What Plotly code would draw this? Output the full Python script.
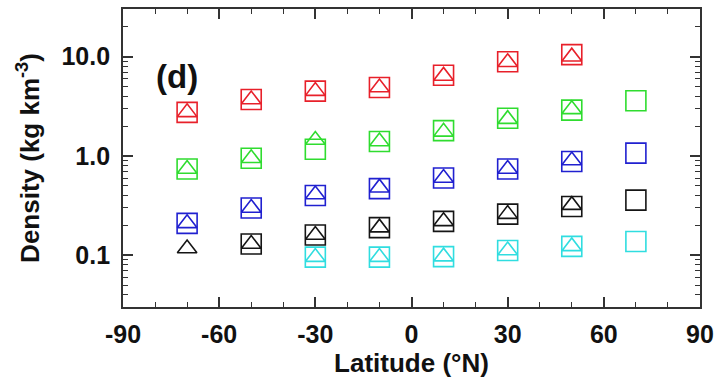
import plotly.graph_objects as go
import math

lat = [-70, -50, -30, -10, 10, 30, 50, 70]

red_sq = [2.75, 3.7, 4.5, 4.9, 6.5, 8.9, 10.5, None]
red_tri = [2.75, 3.7, 4.5, 4.9, 6.4, 8.8, 10.0, None]
green_sq = [0.74, 0.95, 1.17, 1.4, 1.8, 2.4, 2.9, 3.6]
green_tri = [0.74, 0.95, 1.45, 1.4, 1.75, 2.35, 2.95, None]
blue_sq = [0.21, 0.30, 0.40, 0.47, 0.60, 0.74, 0.88, 1.07]
blue_tri = [0.21, 0.30, 0.41, 0.48, 0.60, 0.74, 0.90, None]
black_sq = [None, 0.13, 0.16, 0.19, 0.22, 0.26, 0.31, 0.36]
black_tri = [0.117, 0.13, 0.16, 0.19, 0.22, 0.26, 0.32, None]
cyan_sq = [None, None, 0.096, 0.096, 0.097, 0.112, 0.123, 0.138]
cyan_tri = [None, None, 0.096, 0.096, 0.097, 0.112, 0.123, None]

series = [
    ("#e8202a", red_sq, red_tri),
    ("#2fdc2f", green_sq, green_tri),
    ("#2020d0", blue_sq, blue_tri),
    ("#151515", black_sq, black_tri),
    ("#30dde0", cyan_sq, cyan_tri),
]

x_ticks = [-90, -60, -30, 0, 30, 60, 90]
x_ticktext = ["-90", "-60", "-30", "0", "30", "60", "90"]
y_ticks = [0.1, 1.0, 10.0]
y_ticktext = ["0.1", "1.0", "10.0"]
y_minor = [m * 10 ** e for e in (-2, -1, 0, 1) for m in range(2, 10)]

fig = go.Figure()
for color, sq, tri in series:
    fig.add_trace(go.Scatter(x=lat, y=sq, mode="markers",
                             marker=dict(symbol="square-open", size=20, color=color,
                                         line=dict(width=1.6, color=color)),
                             showlegend=False))
    fig.add_trace(go.Scatter(x=lat, y=tri, mode="markers",
                             marker=dict(symbol="triangle-up-open", size=17, color=color,
                                         line=dict(width=1.6, color=color)),
                             showlegend=False))

font = dict(family="Liberation Sans, Arial, sans-serif", size=25, color="#111", weight="bold")

fig.update_layout(
    width=721, height=379,
    margin=dict(l=123, r=21, t=7, b=72),
    paper_bgcolor="white", plot_bgcolor="white",
    font=font,
    xaxis=dict(range=[-90, 90], tickvals=x_ticks, ticktext=x_ticktext, ticks="inside",
               ticklen=10, tickwidth=1.5,
               tickcolor="#333", showline=True, linecolor="#333", linewidth=1.8, mirror="ticks",
               showgrid=False, zeroline=False,
               minor=dict(dtick=10, ticks="inside", ticklen=5, tickwidth=1.3, tickcolor="#333", showgrid=False),
               title=dict(text="Latitude (°N)", font=dict(size=26), standoff=2),
               tickfont=dict(size=25), ticklabelstandoff=4),
    yaxis=dict(type="log", range=[math.log10(0.0302), math.log10(30.2)], tickvals=y_ticks,
               ticktext=y_ticktext, ticks="inside", ticklen=10, tickwidth=1.5, tickcolor="#333",
               showline=True, linecolor="#333", linewidth=1.8, mirror="ticks", showgrid=False,
               zeroline=False,
               minor=dict(tickvals=y_minor, ticks="inside", ticklen=5, tickwidth=1.3, tickcolor="#333", showgrid=False),
               title=dict(text="Density (kg km<sup>-3</sup>)", font=dict(size=26), standoff=14),
               tickfont=dict(size=25), ticklabelstandoff=6),
)

fig.add_annotation(x=-73, y=math.log10(6.3), text="(d)", showarrow=False,
                   font=dict(size=33, weight="bold", color="#111"))

fig.write_html("out.html")
